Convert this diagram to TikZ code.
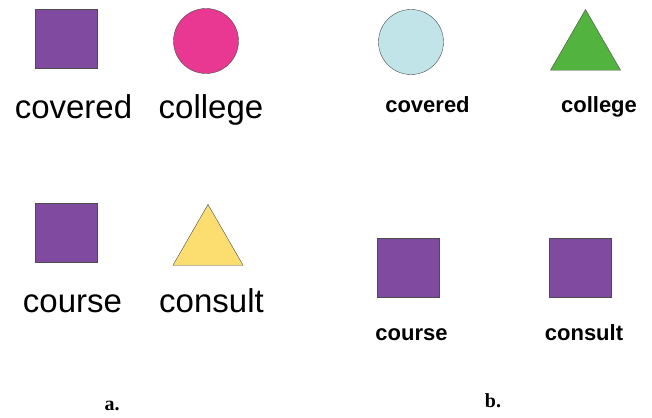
\documentclass[tikz,border=0pt]{standalone}
\usepackage{fontspec}
\setmainfont{Liberation Serif}
\setsansfont{Liberation Sans}
\usetikzlibrary{positioning, shapes.geometric}
\definecolor{sqpurple}{RGB}{128,74,160}
\definecolor{circmag}{RGB}{232,56,146}
\definecolor{triyellow}{RGB}{252,222,112}
\definecolor{circcyan}{RGB}{192,228,232}
\definecolor{trigreen}{RGB}{82,180,62}

\begin{document}
\begin{tikzpicture}[x=1pt, y=-1pt,
    sq/.style={draw=black!70, fill=sqpurple, rectangle, minimum width=62pt,
               minimum height=59pt, inner sep=0pt},
    circ/.style={draw=black!70, circle, minimum size=65pt, inner sep=0pt},
    tri/.style={draw=black!70, regular polygon, regular polygon sides=3,
                minimum size=81pt, inner sep=0pt},
    wordA/.style={anchor=base, inner sep=0pt, font=\sffamily\fontsize{33}{33}\selectfont},
    wordB/.style={anchor=base, inner sep=0pt, font=\sffamily\bfseries\fontsize{22}{22}\selectfont},
    caption/.style={anchor=base, inner sep=0pt, font=\bfseries\fontsize{20}{20}\selectfont}
]
\useasboundingbox (0,0) rectangle (652,417);

% panel a
\node[sq] (coveredA) at (66,38.5) {};
\node[circ, fill=circmag] (collegeA) at (206,41) {};
\node[sq] (courseA) at (66,232.5) {};
\node[tri, fill=triyellow] (consultA) at (208,245) {};

\node[wordA] (coveredAtxt) at (73.5,118) {covered};
\node[wordA] (collegeAtxt) at (211,118) {college};
\node[wordA] (courseAtxt) at (72.5,312) {course};
\node[wordA] (consultAtxt) at (211.5,312) {consult};

% panel b
\node[circ, fill=circcyan] (coveredB) at (411,42) {};
\node[tri, fill=trigreen] (collegeB) at (585.5,50) {};
\node[sq] (courseB) at (408.5,268) {};
\node[sq] (consultB) at (580.5,268) {};

\node[wordB] (coveredBtxt) at (427.5,112) {covered};
\node[wordB] (collegeBtxt) at (599,112) {college};
\node[wordB] (courseBtxt) at (411.5,340) {course};
\node[wordB] (consultBtxt) at (584,340) {consult};

% captions
\node[caption] (capA) at (112,410) {a.};
\node[caption] (capB) at (493,407) {b.};

\end{tikzpicture}
\end{document}
